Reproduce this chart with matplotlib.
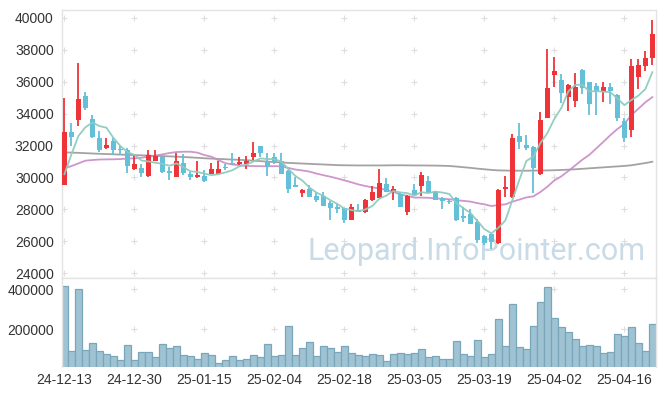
import numpy as np
import pandas as pd
import matplotlib
matplotlib.use("Agg")
import matplotlib.pyplot as plt

# 시세 데이터 (24-12-13 ~ 25-04-22, 85 거래일)
opens = [29550, 32850, 33600, 35100, 33650, 32450, 31850, 32300, 31800, 31700,
         30500, 30600, 30100, 31050, 31250, 30400, 30050, 30900, 30200, 30000,
         30100, 30200, 30200, 30650, 30930, 30830, 30820, 31250, 31950, 31050,
         31250, 31050, 30400, 29500, 29050, 29300, 28850, 28850, 28400, 28150,
         28100, 27350, 27950, 27800, 28600, 28700, 29600, 29100, 28950, 27850,
         29200, 29450, 29750, 29100, 28700, 28550, 28700, 27550, 27700, 27200,
         26300, 26450, 25900, 29300, 28750, 32600, 32050, 31900, 30200, 33750,
         36450, 36100, 35050, 34800, 36750, 36000, 35750, 35350, 35650, 35150,
         33550, 32950, 36300, 37000, 37500]
highs = [34950, 33400, 37150, 35350, 33900, 32900, 32500, 32500, 32000, 31850,
         31400, 30850, 31750, 31700, 31400, 30650, 31550, 31450, 30350, 31000,
         30450, 30900, 31000, 30850, 31500, 31250, 31350, 32200, 31950, 31500,
         31500, 31500, 30450, 30000, 29250, 29500, 29000, 29100, 28500, 28350,
         28100, 28350, 28350, 28650, 29450, 30500, 29950, 29450, 29000, 28900,
         29600, 30350, 30100, 29150, 28800, 28650, 28800, 28150, 28000, 27400,
         26400, 26450, 29250, 30100, 32750, 33400, 32650, 32000, 34100, 38050,
         37550, 36500, 35850, 36550, 36800, 36000, 35900, 36000, 35900, 35200,
         33700, 37450, 37450, 37950, 39900]
lows = [29500, 31950, 33250, 34250, 32500, 31600, 31800, 31400, 31400, 30250,
        30450, 30050, 30050, 31000, 30250, 29850, 30000, 30150, 29850, 29950,
        29700, 30200, 30200, 30450, 30800, 30800, 30550, 31100, 31250, 30100,
        30850, 30200, 29050, 29400, 28800, 28800, 28450, 28200, 27350, 27750,
        27150, 27300, 27800, 27750, 28550, 28700, 29100, 28600, 28150, 27650,
        28900, 28850, 29050, 28580, 28000, 28350, 27250, 27200, 27050, 25900,
        25750, 25500, 25800, 28800, 28700, 31800, 31700, 29050, 30150, 33700,
        35650, 34650, 34150, 34400, 35250, 33900, 33900, 34700, 34600, 33550,
        32200, 32550, 35550, 36700, 37050]
closes = [32850, 32550, 34900, 34350, 32550, 31750, 32050, 31700, 31750, 30700,
          30850, 30300, 31400, 31350, 30350, 30250, 31050, 30250, 30000, 30150,
          29750, 30550, 30550, 30580, 30830, 30970, 31050, 31550, 31550, 30650,
          30950, 30200, 29250, 29400, 29200, 28800, 28600, 28200, 28050, 28000,
          27350, 28150, 27850, 28600, 29100, 29650, 29100, 29300, 28150, 28850,
          28900, 30150, 29050, 28600, 28550, 28450, 27300, 27450, 27100, 26050,
          25900, 25950, 29200, 29400, 32450, 32250, 31850, 30600, 33600, 35600,
          36700, 35300, 35800, 35650, 35600, 34600, 35400, 35650, 35450, 33700,
          32450, 37000, 37050, 37500, 39000]
volumes = [415000, 92300, 398500, 97300, 132000, 92300, 75900, 66000, 47600, 120600,
           47600, 85800, 85800, 61000, 125600, 105700, 115600, 71000, 66000, 51100,
           80900, 71000, 31300, 46100, 66000, 46100, 51100, 71000, 61000, 125600,
           66000, 71000, 214900, 71000, 105700, 135500, 66000, 115600, 105700, 85800,
           115600, 80900, 71000, 66000, 75900, 71000, 41000, 75900, 80900, 75900,
           80900, 100700, 61000, 66000, 51100, 51100, 140400, 75900, 66000, 145400,
           61000, 75900, 249600, 115600, 324100, 110700, 100700, 214900, 334000, 408500,
           254600, 209900, 185100, 150400, 115600, 120600, 115600, 80900, 85800, 175200,
           165300, 209900, 130500, 90800, 224800]

# 화면 이전 구간의 영향을 받는 이동평균 앞부분
ma5_head = [30200, 31450, 32600, 33150]
ma20_head = [30570, 30710, 30880, 31050, 31090, 31120, 31130, 31135, 31150, 31185,
             31195, 31235, 31300, 31370, 31445, 31530, 31590, 31610, 31610]
ma60 = [31570, 31555, 31540, 31520, 31500, 31480, 31465, 31450, 31430, 31415,
        31400, 31385, 31370, 31350, 31335, 31320, 31300, 31280, 31255, 31230,
        31200, 31180, 31160, 31140, 31120, 31100, 31080, 31050, 31020, 30990,
        30960, 30940, 30910, 30890, 30870, 30850, 30830, 30810, 30790, 30770,
        30760, 30755, 30750, 30750, 30750, 30750, 30755, 30760, 30760, 30755,
        30750, 30750, 30745, 30740, 30730, 30715, 30680, 30640, 30600, 30550,
        30510, 30470, 30440, 30430, 30420, 30420, 30420, 30425, 30430, 30440,
        30450, 30465, 30485, 30510, 30540, 30570, 30600, 30630, 30660, 30690,
        30720, 30760, 30830, 30900, 30980]

tick_labels = ['24-12-13', '24-12-30', '25-01-15', '25-02-04', '25-02-18',
               '25-03-05', '25-03-19', '25-04-02', '25-04-16']

up_color = '#ee3438'
down_color = '#64bfd8'
grid_color = '#dedede'
spine_color = '#e3e3e3'
text_color = '#333333'

n = len(closes)
idx = np.arange(n)
o = np.array(opens)
h = np.array(highs)
l = np.array(lows)
c = np.array(closes)

cs = pd.Series(closes, dtype=float)
ma5 = cs.rolling(5).mean().values
ma5[:len(ma5_head)] = ma5_head
ma20 = cs.rolling(20).mean().values
ma20[:len(ma20_head)] = ma20_head

fig = plt.figure(figsize=(6.65, 3.96), dpi=100)
ax1 = fig.add_axes([62 / 665, 118 / 396, 593.5 / 665, 268 / 396])
ax2 = fig.add_axes([62 / 665, 29 / 396, 593.5 / 665, 89 / 396], sharex=ax1)

# 격자 대신 '+' 표시
xt = np.arange(0, n, 10)
yt = np.arange(24000, 40001, 2000)
gx, gy = np.meshgrid(xt, yt)
ax1.plot(gx.ravel(), gy.ravel(), '+', color=grid_color, ms=5, mew=0.8, zorder=0)
vt = [200000, 400000]
gx2, gy2 = np.meshgrid(xt, vt)
ax2.plot(gx2.ravel(), gy2.ravel(), '+', color=grid_color, ms=5, mew=0.8, zorder=0)

# 워터마크
ax1.text(0.698, 0.10, 'Leopard.InfoPointer.com', transform=ax1.transAxes,
         ha='center', va='center', fontsize=22, family='Roboto',
         color='#c9dbe7', zorder=1)

# 캔들
up = c >= o
colors = np.where(up, up_color, down_color)
ax1.vlines(idx, l, h, colors=colors, lw=1.3, zorder=3)
body_bottom = np.minimum(o, c)
body_h = np.maximum(np.abs(c - o), 60)
ax1.bar(idx, body_h, bottom=body_bottom, width=0.8, color=colors, lw=0, zorder=4)

# 이동평균선
ax1.plot(idx, ma60, color='#999999', lw=1.3, alpha=0.9, zorder=2)
ax1.plot(idx, ma20, color='#c98bc6', lw=1.3, alpha=0.9, zorder=2)
ax1.plot(idx, ma5, color='#8ecbbf', lw=1.3, alpha=0.95, zorder=5)

ax1.set_xlim(-0.35, 84.45)
ax1.set_ylim(23690, 40500)
ax1.set_yticks(yt)
ax1.set_yticklabels([str(v) for v in yt])
ax1.tick_params(axis='y', length=0, pad=6, labelsize=10, colors=text_color)
ax1.tick_params(axis='x', length=0, labelbottom=False)

# 거래량
ax2.bar(idx, volumes, width=1.0, color='#9fc3d3', edgecolor='#7aa6bb', lw=0.9, zorder=2)
ax2.set_ylim(12900, 454600)
ax2.set_yticks(vt)
ax2.set_yticklabels([str(v) for v in vt])
ax2.set_xticks(xt)
ax2.set_xticklabels(tick_labels)
ax2.tick_params(axis='both', length=0, labelsize=10, colors=text_color)
ax2.tick_params(axis='y', pad=6)
ax2.tick_params(axis='x', pad=4)

for ax in (ax1, ax2):
    for s in ax.spines.values():
        s.set_color(spine_color)
        s.set_linewidth(1)
ax2.spines['bottom'].set_visible(False)

for t in ax1.get_yticklabels() + ax2.get_yticklabels() + ax2.get_xticklabels():
    t.set_family('Liberation Sans')

fig.savefig('out.png', dpi=100)
